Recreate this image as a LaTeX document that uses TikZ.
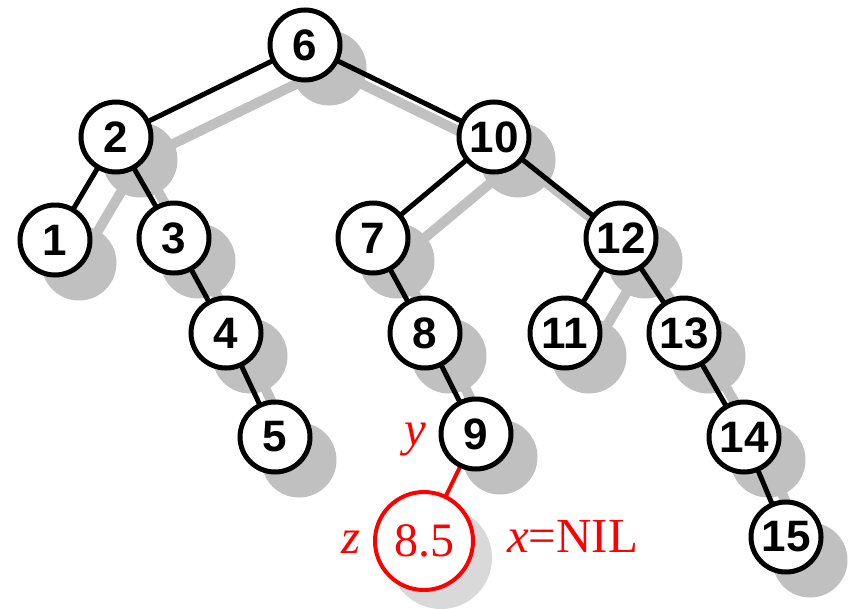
\documentclass[tikz,border=0pt]{standalone}
\usepackage{fontspec}
\setmainfont{Liberation Serif}
\newfontfamily\numfont{Liberation Sans}
\pgfdeclarelayer{shadowlayer}
\pgfdeclarelayer{edgelayer}
\pgfsetlayers{shadowlayer,edgelayer,main}
\definecolor{shadowgray}{HTML}{C0C0C0}
\definecolor{lightshadow}{HTML}{D9D9D9}
\tikzset{
  treenode/.style={circle, draw=black, line width=5pt, fill=white, minimum size=70pt, inner sep=0pt, font=\numfont\bfseries\fontsize{44}{44}\selectfont},
  rednode/.style={circle, draw=red, line width=4pt, fill=white, minimum size=98pt, inner sep=0pt, text=red, font=\fontsize{48}{48}\selectfont},
  edge/.style={line width=5pt, draw=black},
  shadowedge/.style={line width=10pt, draw=shadowgray},
  redlabel/.style={text=red, inner sep=0pt, font=\fontsize{49}{49}\selectfont},
  redital/.style={redlabel, font=\itshape\fontsize{49}{49}\selectfont}
}
\begin{document}
\begin{tikzpicture}[x=1pt, y=-1pt]
\useasboundingbox (0,0) rectangle (848,608);
% nodes
\node[treenode] (n6) at (305,45) {6};
\node[treenode] (n2) at (116,137) {2};
\node[treenode] (n10) at (494,137) {10};
\node[treenode] (n1) at (55,240) {1};
\node[treenode] (n3) at (174,238) {3};
\node[treenode] (n7) at (373,238) {7};
\node[treenode] (n12) at (621,238) {12};
\node[treenode] (n4) at (226,333) {4};
\node[treenode] (n8) at (425,333) {8};
\node[treenode] (n11) at (565,333) {11};
\node[treenode] (n13) at (684,333) {13};
\node[treenode] (n5) at (275,437) {5};
\node[treenode] (n9) at (476,434) {9};
\node[treenode] (n14) at (744,437) {14};
\node[treenode] (n15) at (786,537) {15};
\node[rednode] (nz) at (424,541) {8.5};
% labels
\node[redital, anchor=base] (ly) at (415,445) {y};
\node[redital, anchor=base] (lz) at (351,553) {z};
\node[redlabel, anchor=base west] (lx) at (507,552) {{\itshape x}=NIL};
% edges
\begin{pgfonlayer}{edgelayer}
\foreach \a/\b in {6/2,6/10,2/1,2/3,3/4,4/5,10/7,10/12,7/8,8/9,12/11,12/13,13/14,14/15}
  \draw[edge] (n\a.center) -- (n\b.center);
\draw[line width=4pt, red] (n9.center) -- (nz.center);
\end{pgfonlayer}
% shadows
\begin{pgfonlayer}{shadowlayer}
\foreach \a/\b in {6/2,6/10,2/1,2/3,3/4,4/5,10/7,10/12,7/8,8/9,12/11,12/13,13/14,14/15}
  \draw[shadowedge] ([shift={(24,23)}]n\a.center) -- ([shift={(24,23)}]n\b.center);
\foreach \a in {6,2,10,1,3,7,12,4,8,11,13,5,9,14,15}
  \fill[shadowgray] ([shift={(24,23)}]n\a.center) circle (37.5);
\fill[lightshadow] ([shift={(17,17)}]nz.center) circle (51);
\end{pgfonlayer}
\end{tikzpicture}
\end{document}
